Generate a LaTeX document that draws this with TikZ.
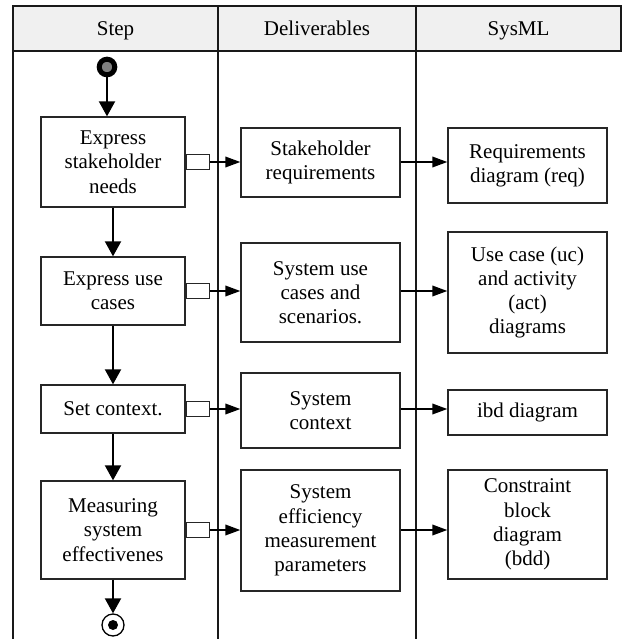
\documentclass[tikz,border=0pt]{standalone}
\usepackage{fontspec}
\setmainfont{Liberation Serif}
\usetikzlibrary{arrows.meta}
\begin{document}
\begin{tikzpicture}[x=1pt,y=-1pt,
  txt/.style={font=\fontsize{21}{24.3}\selectfont},
  box/.style={txt, draw=black!85, line width=1.3pt, fill=white, align=center, inner sep=0pt},
  stepbox/.style={box, minimum width=144pt},
  outbox/.style={box, minimum width=159pt},
  pinbox/.style={draw=black!85, line width=1.4pt, fill=white, minimum width=23pt, minimum height=15pt, inner sep=0pt},
  flow/.style={line width=2pt, -{Triangle[length=15pt,width=16pt]}},
  feed/.style={line width=2pt, -{Triangle[length=15pt,width=10.5pt]}},
  rule/.style={line width=1.6pt, draw=black!90},
  headtext/.style={txt, anchor=base, inner sep=0pt},
]
\useasboundingbox (0,0) rectangle (622,639);

% swimlane header and lane dividers
\fill[black!6] (13,6) rectangle (621,51);
\draw[rule] (13,6) rectangle (621,51);
\draw[rule] (13,51) -- (13,642);
\draw[rule] (218,6) -- (218,642);
\draw[rule] (416,6) -- (416,642);
\node[headtext] (hstep) at (115.5,36) {Step};
\node[headtext] (hdel) at (317,36) {Deliverables};
\node[headtext] (hsys) at (518.5,36) {SysML};

% initial and final nodes
\node[circle, draw=black, line width=5pt, fill=black!50, minimum size=15.6pt, inner sep=0pt] (start) at (107,67) {};
\node[circle, draw=black, line width=1.3pt, fill=white, minimum size=22pt, inner sep=0pt] (finish) at (113,625) {};
\fill (finish) circle (5pt);

% process steps
\node[stepbox, minimum height=90pt] (s1) at (113,162) {Express\\stakeholder\\needs};
\node[stepbox, minimum height=68pt] (s2) at (113,291) {Express use\\cases};
\node[stepbox, minimum height=48pt] (s3) at (113,409) {Set context.};
\node[stepbox, minimum height=98pt] (s4) at (113,530) {Measuring\\system\\effectivenes};

% output pins
\node[pinbox, anchor=west] (p1) at (s1.east) {};
\node[pinbox, anchor=west] (p2) at (s2.east) {};
\node[pinbox, anchor=west] (p3) at (s3.east) {};
\node[pinbox, anchor=west] (p4) at (s4.east) {};

% deliverables
\node[outbox, minimum height=69pt] (d1) at (320.5,162.5) {Stakeholder\\requirements};
\node[outbox, minimum height=99pt] (d2) at (320.5,292.5) {System use\\cases and\\scenarios.};
\node[outbox, minimum height=75pt] (d3) at (320.5,410.5) {System\\context};
\node[outbox, minimum height=121pt] (d4) at (320.5,530.5) {System\\efficiency\\measurement\\parameters};

% SysML diagrams
\node[outbox, minimum height=75pt] (m1) at (527.5,165.5) {Requirements\\diagram (req)};
\node[outbox, minimum height=121pt] (m2) at (527.5,292.5) {Use case (uc)\\and activity\\(act)\\diagrams};
\node[outbox, minimum height=45pt] (m3) at (527.5,412.5) {ibd diagram};
\node[outbox, minimum height=109pt] (m4) at (527.5,524.5) {Constraint\\block\\diagram\\(bdd)};

% control flow
\draw[flow] (start) -- (start |- s1.north);
\draw[flow] (s1.south) -- (s2.north);
\draw[flow] (s2.south) -- (s3.north);
\draw[flow] (s3.south) -- (s4.north);
\draw[flow] (s4.south) -- (finish);

% object flow
\foreach \i in {1,2,3,4} {
  \draw[feed] (p\i.east) -- (p\i.east -| d\i.west);
  \draw[feed] (d\i.east |- p\i.east) -- (m\i.west |- p\i.east);
}
\end{tikzpicture}
\end{document}
